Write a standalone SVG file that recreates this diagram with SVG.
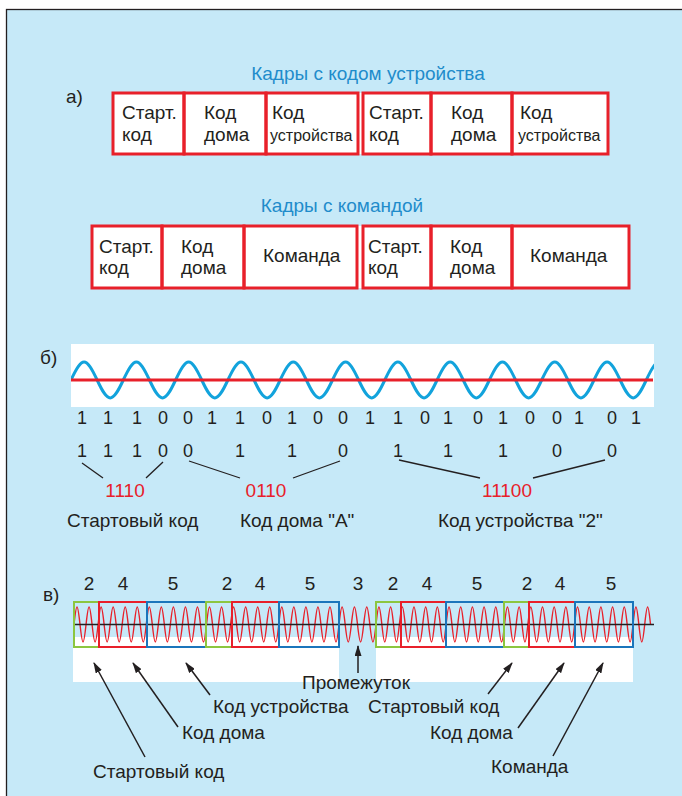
<svg xmlns="http://www.w3.org/2000/svg" width="682" height="796" viewBox="0 0 682 796">
<style>
.t{font-family:"Liberation Sans",Arial,sans-serif;font-size:19px;fill:#231F20}
.sm{font-size:16px}
.ttl{fill:#1F8CCB}
.rd{fill:#E8202A}
.mid{text-anchor:middle}
.bit{font-family:"Liberation Sans",Arial,sans-serif;font-size:18px;fill:#231F20;text-anchor:middle}
.rb{fill:none;stroke:#E8202A;stroke-width:3}
.g{fill:none;stroke:#8CC63F;stroke-width:2}
.r{fill:none;stroke:#E8202A;stroke-width:2}
.b{fill:none;stroke:#1B75BB;stroke-width:2}
.ln{stroke:#231F20;stroke-width:1.3;fill:none}
.ar{stroke:#231F20;stroke-width:1.5;fill:none;marker-end:url(#ah)}
</style>
<defs>
<marker id="ah" markerWidth="11" markerHeight="7" refX="10" refY="3.5" orient="auto" markerUnits="userSpaceOnUse">
<path d="M0,0 L11,3.5 L0,7 z" fill="#231F20"/>
</marker>
<clipPath id="cb"><rect x="71" y="344" width="583" height="63"/></clipPath>
</defs>
<rect x="0" y="0" width="682" height="796" fill="#fff"/>
<rect x="6.5" y="9.5" width="690" height="800" fill="#C6E9F8" stroke="#231F20" stroke-width="1.3"/>

<g id="sec-a">
<text class="t" x="66" y="103">а)</text>
<text class="t ttl mid" x="368" y="80">Кадры с кодом устройства</text>
<rect x="113" y="93" width="495" height="61" fill="#fff"/>
<g id="a1-start"><rect class="rb" x="113" y="93" width="71" height="61"/><text class="t" x="122" y="119">Старт.</text><text class="t" x="122" y="141">код</text></g>
<g id="a1-house"><rect class="rb" x="184" y="93" width="82" height="61"/><text class="t" x="204" y="119">Код</text><text class="t" x="204" y="141">дома</text></g>
<g id="a1-dev"><rect class="rb" x="266" y="93" width="92" height="61"/><text class="t" x="272" y="119">Код</text><text class="t sm" x="270" y="141">устройства</text></g>
<g id="a2-start"><rect class="rb" x="363" y="93" width="68" height="61"/><text class="t" x="369" y="119">Старт.</text><text class="t" x="369" y="141">код</text></g>
<g id="a2-house"><rect class="rb" x="431" y="93" width="81" height="61"/><text class="t" x="451" y="119">Код</text><text class="t" x="451" y="141">дома</text></g>
<g id="a2-dev"><rect class="rb" x="512" y="93" width="96" height="61"/><text class="t" x="520" y="119">Код</text><text class="t sm" x="518" y="141">устройства</text></g>

<text class="t ttl mid" x="342" y="212">Кадры с командой</text>
<rect x="92" y="226" width="537" height="62" fill="#fff"/>
<g id="c1-start"><rect class="rb" x="92" y="226" width="70" height="62"/><text class="t" x="99" y="253">Старт.</text><text class="t" x="99" y="274">код</text></g>
<g id="c1-house"><rect class="rb" x="162" y="226" width="82" height="62"/><text class="t" x="181" y="253">Код</text><text class="t" x="181" y="274">дома</text></g>
<g id="c1-cmd"><rect class="rb" x="244" y="226" width="113" height="62"/><text class="t" x="263" y="262">Команда</text></g>
<g id="c2-start"><rect class="rb" x="363" y="226" width="68" height="62"/><text class="t" x="368" y="253">Старт.</text><text class="t" x="368" y="274">код</text></g>
<g id="c2-house"><rect class="rb" x="431" y="226" width="81" height="62"/><text class="t" x="450" y="253">Код</text><text class="t" x="450" y="274">дома</text></g>
<g id="c2-cmd"><rect class="rb" x="512" y="226" width="117" height="62"/><text class="t" x="530" y="262">Команда</text></g>
</g>

<g id="sec-b">
<text class="t" x="40" y="364">б)</text>
<rect x="71" y="344" width="583" height="63" fill="#fff"/>
<path clip-path="url(#cb)" fill="none" stroke="#12A3DC" stroke-width="3" d="M71,380 c11.1,-24 15.05,-24 26.15,0 11.1,24 15.05,24 26.15,0
11.1,-24 15.05,-24 26.15,0 11.1,24 15.05,24 26.15,0
11.1,-24 15.05,-24 26.15,0 11.1,24 15.05,24 26.15,0
11.1,-24 15.05,-24 26.15,0 11.1,24 15.05,24 26.15,0
11.1,-24 15.05,-24 26.15,0 11.1,24 15.05,24 26.15,0
11.1,-24 15.05,-24 26.15,0 11.1,24 15.05,24 26.15,0
11.1,-24 15.05,-24 26.15,0 11.1,24 15.05,24 26.15,0
11.1,-24 15.05,-24 26.15,0 11.1,24 15.05,24 26.15,0
11.1,-24 15.05,-24 26.15,0 11.1,24 15.05,24 26.15,0
11.1,-24 15.05,-24 26.15,0 11.1,24 15.05,24 26.15,0
11.1,-24 15.05,-24 26.15,0 11.1,24 15.05,24 26.15,0
11.1,-24 15.05,-24 26.15,0 11.1,24 15.05,24 26.15,0"/>
<line x1="71" y1="380" x2="653" y2="380" stroke="#E8202A" stroke-width="3"/>
<g id="bits1">
<text class="bit" x="82" y="424">1</text><text class="bit" x="108" y="424">1</text><text class="bit" x="137" y="424">1</text><text class="bit" x="163" y="424">0</text><text class="bit" x="188" y="424">0</text><text class="bit" x="212" y="424">1</text><text class="bit" x="240" y="424">1</text><text class="bit" x="267" y="424">0</text><text class="bit" x="292" y="424">1</text><text class="bit" x="318" y="424">0</text><text class="bit" x="343" y="424">0</text><text class="bit" x="370" y="424">1</text><text class="bit" x="398" y="424">1</text><text class="bit" x="425" y="424">0</text><text class="bit" x="448" y="424">1</text><text class="bit" x="478" y="424">0</text><text class="bit" x="503" y="424">1</text><text class="bit" x="530" y="424">0</text><text class="bit" x="557" y="424">0</text><text class="bit" x="579" y="424">1</text><text class="bit" x="612" y="424">0</text><text class="bit" x="636" y="424">1</text>
</g>
<g id="bits2">
<text class="bit" x="82" y="457">1</text><text class="bit" x="108" y="457">1</text><text class="bit" x="137" y="457">1</text><text class="bit" x="163" y="457">0</text><text class="bit" x="188" y="457">0</text><text class="bit" x="240" y="457">1</text><text class="bit" x="292" y="457">1</text><text class="bit" x="343" y="457">0</text><text class="bit" x="398" y="457">1</text><text class="bit" x="448" y="457">1</text><text class="bit" x="503" y="457">1</text><text class="bit" x="557" y="457">0</text><text class="bit" x="612" y="457">0</text>
</g>
<g id="code-start"><text class="t rd mid" x="125" y="497">1110</text><text class="t" x="67" y="527">Стартовый код</text></g>
<g id="code-house"><text class="t rd mid" x="266" y="497">0110</text><text class="t" x="240" y="527">Код дома "A"</text></g>
<g id="code-dev"><text class="t rd mid" x="507" y="497">11100</text><text class="t" x="438" y="527">Код устройства "2"</text></g>
</g>

<g id="sec-c">
<text class="t" x="43" y="601">в)</text>
<rect x="73" y="637" width="266" height="45" fill="#fff"/>
<rect x="376" y="637" width="257" height="45" fill="#fff"/>
<path fill="none" stroke="#E8202A" stroke-width="1.4" d="M74,624.5 c2.556,-23.33 3.467,-23.33 6.023,0 2.556,23.33 3.467,23.33 6.023,0
2.556,-23.33 3.467,-23.33 6.023,0 2.556,23.33 3.467,23.33 6.023,0
2.556,-23.33 3.467,-23.33 6.023,0 2.556,23.33 3.467,23.33 6.023,0
2.556,-23.33 3.467,-23.33 6.023,0 2.556,23.33 3.467,23.33 6.023,0
2.556,-23.33 3.467,-23.33 6.023,0 2.556,23.33 3.467,23.33 6.023,0
2.556,-23.33 3.467,-23.33 6.023,0 2.556,23.33 3.467,23.33 6.023,0
2.556,-23.33 3.467,-23.33 6.023,0 2.556,23.33 3.467,23.33 6.023,0
2.556,-23.33 3.467,-23.33 6.023,0 2.556,23.33 3.467,23.33 6.023,0
2.556,-23.33 3.467,-23.33 6.023,0 2.556,23.33 3.467,23.33 6.023,0
2.556,-23.33 3.467,-23.33 6.023,0 2.556,23.33 3.467,23.33 6.023,0
2.556,-23.33 3.467,-23.33 6.023,0 2.556,23.33 3.467,23.33 6.023,0
2.556,-23.33 3.467,-23.33 6.023,0 2.556,23.33 3.467,23.33 6.023,0
2.556,-23.33 3.467,-23.33 6.023,0 2.556,23.33 3.467,23.33 6.023,0
2.556,-23.33 3.467,-23.33 6.023,0 2.556,23.33 3.467,23.33 6.023,0
2.556,-23.33 3.467,-23.33 6.023,0 2.556,23.33 3.467,23.33 6.023,0
2.556,-23.33 3.467,-23.33 6.023,0 2.556,23.33 3.467,23.33 6.023,0
2.556,-23.33 3.467,-23.33 6.023,0 2.556,23.33 3.467,23.33 6.023,0
2.556,-23.33 3.467,-23.33 6.023,0 2.556,23.33 3.467,23.33 6.023,0
2.556,-23.33 3.467,-23.33 6.023,0 2.556,23.33 3.467,23.33 6.023,0
2.556,-23.33 3.467,-23.33 6.023,0 2.556,23.33 3.467,23.33 6.023,0
2.556,-23.33 3.467,-23.33 6.023,0 2.556,23.33 3.467,23.33 6.023,0
2.556,-23.33 3.467,-23.33 6.023,0 2.556,23.33 3.467,23.33 6.023,0
2.617,-23.33 3.55,-23.33 6.167,0 2.617,23.33 3.55,23.33 6.167,0
2.617,-23.33 3.55,-23.33 6.167,0 2.617,23.33 3.55,23.33 6.167,0
2.617,-23.33 3.55,-23.33 6.167,0 2.617,23.33 3.55,23.33 6.167,0
2.479,-23.33 3.362,-23.33 5.841,0 2.479,23.33 3.362,23.33 5.841,0
2.479,-23.33 3.362,-23.33 5.841,0 2.479,23.33 3.362,23.33 5.841,0
2.479,-23.33 3.362,-23.33 5.841,0 2.479,23.33 3.362,23.33 5.841,0
2.479,-23.33 3.362,-23.33 5.841,0 2.479,23.33 3.362,23.33 5.841,0
2.479,-23.33 3.362,-23.33 5.841,0 2.479,23.33 3.362,23.33 5.841,0
2.479,-23.33 3.362,-23.33 5.841,0 2.479,23.33 3.362,23.33 5.841,0
2.479,-23.33 3.362,-23.33 5.841,0 2.479,23.33 3.362,23.33 5.841,0
2.479,-23.33 3.362,-23.33 5.841,0 2.479,23.33 3.362,23.33 5.841,0
2.479,-23.33 3.362,-23.33 5.841,0 2.479,23.33 3.362,23.33 5.841,0
2.479,-23.33 3.362,-23.33 5.841,0 2.479,23.33 3.362,23.33 5.841,0
2.479,-23.33 3.362,-23.33 5.841,0 2.479,23.33 3.362,23.33 5.841,0
2.479,-23.33 3.362,-23.33 5.841,0 2.479,23.33 3.362,23.33 5.841,0
2.479,-23.33 3.362,-23.33 5.841,0 2.479,23.33 3.362,23.33 5.841,0
2.479,-23.33 3.362,-23.33 5.841,0 2.479,23.33 3.362,23.33 5.841,0
2.479,-23.33 3.362,-23.33 5.841,0 2.479,23.33 3.362,23.33 5.841,0
2.479,-23.33 3.362,-23.33 5.841,0 2.479,23.33 3.362,23.33 5.841,0
2.479,-23.33 3.362,-23.33 5.841,0 2.479,23.33 3.362,23.33 5.841,0
2.479,-23.33 3.362,-23.33 5.841,0 2.479,23.33 3.362,23.33 5.841,0
2.479,-23.33 3.362,-23.33 5.841,0 2.479,23.33 3.362,23.33 5.841,0
2.479,-23.33 3.362,-23.33 5.841,0 2.479,23.33 3.362,23.33 5.841,0
2.479,-23.33 3.362,-23.33 5.841,0 2.479,23.33 3.362,23.33 5.841,0
2.479,-23.33 3.362,-23.33 5.841,0 2.479,23.33 3.362,23.33 5.841,0
2.479,-23.33 3.362,-23.33 5.841,0 2.479,23.33 3.362,23.33 5.841,0
2.479,-23.33 3.362,-23.33 5.841,0"/>
<line x1="73" y1="624.5" x2="654" y2="624.5" stroke="#231F20" stroke-width="1.5"/>
<g id="frame1">
<g id="f1-start"><rect class="g" x="74" y="602" width="25" height="45"/><text class="t mid" x="89" y="590">2</text></g>
<g id="f1-house"><rect class="r" x="99" y="602" width="48" height="45"/><text class="t mid" x="123" y="590">4</text></g>
<g id="f1-dev"><rect class="b" x="147" y="602" width="59" height="45"/><text class="t mid" x="173" y="590">5</text></g>
<g id="f2-start"><rect class="g" x="206" y="602" width="26" height="45"/><text class="t mid" x="227" y="590">2</text></g>
<g id="f2-house"><rect class="r" x="232" y="602" width="47" height="45"/><text class="t mid" x="260" y="590">4</text></g>
<g id="f2-dev"><rect class="b" x="279" y="602" width="60" height="45"/><text class="t mid" x="310" y="590">5</text></g>
</g>
<g id="gap"><text class="t mid" x="358" y="590">3</text></g>
<g id="frame2">
<g id="f3-start"><rect class="g" x="376" y="602" width="25" height="45"/><text class="t mid" x="393" y="590">2</text></g>
<g id="f3-house"><rect class="r" x="401" y="602" width="45" height="45"/><text class="t mid" x="427" y="590">4</text></g>
<g id="f3-cmd"><rect class="b" x="446" y="602" width="58" height="45"/><text class="t mid" x="477" y="590">5</text></g>
<g id="f4-start"><rect class="g" x="504" y="602" width="25" height="45"/><text class="t mid" x="527" y="590">2</text></g>
<g id="f4-house"><rect class="r" x="529" y="602" width="46" height="45"/><text class="t mid" x="560" y="590">4</text></g>
<g id="f4-cmd"><rect class="b" x="575" y="602" width="58" height="45"/><text class="t mid" x="611" y="590">5</text></g>
</g>
<g id="labels-c">
<text class="t" x="93" y="778">Стартовый код</text>
<text class="t" x="182" y="739">Код дома</text>
<text class="t" x="213" y="713">Код устройства</text>
<text class="t" x="302" y="689">Промежуток</text>
<text class="t" x="368" y="713">Стартовый код</text>
<text class="t" x="430" y="739">Код дома</text>
<text class="t" x="491" y="773">Команда</text>
</g>
</g>

<g id="connectors">
<line class="ln" x1="82" y1="463" x2="103" y2="478"/>
<line class="ln" x1="163" y1="462" x2="146" y2="478"/>
<line class="ln" x1="189" y1="461" x2="240" y2="478"/>
<line class="ln" x1="340" y1="461" x2="293" y2="478"/>
<line class="ln" x1="399" y1="460" x2="480" y2="478"/>
<line class="ln" x1="605" y1="460" x2="533" y2="478"/>
<line class="ar" x1="145" y1="757" x2="94" y2="663"/>
<line class="ar" x1="178" y1="727" x2="133" y2="663"/>
<line class="ar" x1="210" y1="695" x2="186" y2="663"/>
<line class="ar" x1="358" y1="673" x2="358" y2="646"/>
<line class="ar" x1="488" y1="694" x2="512" y2="663"/>
<line class="ar" x1="518" y1="728" x2="564" y2="663"/>
<line class="ar" x1="553" y1="756" x2="603" y2="663"/>
</g>
</svg>
